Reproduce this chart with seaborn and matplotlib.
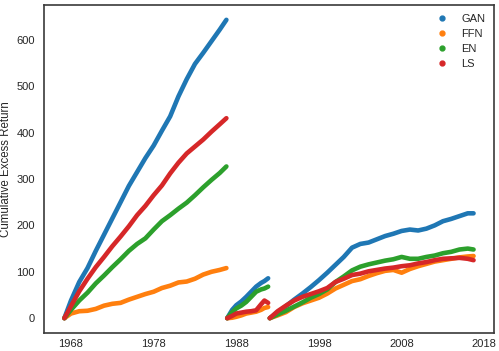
import pandas as pd
import numpy as np
import matplotlib
matplotlib.use("Agg")
import matplotlib.pyplot as plt
import seaborn as sns
from matplotlib.lines import Line2D

# --- data (cumulative excess return, 3 separate periods) ---
models = ['GAN', 'FFN', 'EN', 'LS']
tick_years = [1968, 1978, 1988, 1998, 2008, 2018]

# period 1
years_1 = [1967.2, 1968, 1969, 1970, 1971, 1972, 1973, 1974, 1975, 1976, 1977,
           1978, 1979, 1980, 1981, 1982, 1983, 1984, 1985, 1986, 1986.8]
gan_1 = [0, 38, 78, 108, 145, 180, 215, 250, 285, 315, 345,
         372, 404, 435, 478, 515, 548, 572, 597, 622, 643]
ffn_1 = [0, 10, 15, 16, 20, 27, 31, 33, 40, 46, 52,
         57, 65, 70, 77, 79, 85, 94, 100, 104, 108]
en_1 = [0, 18, 38, 55, 75, 92, 110, 127, 145, 160, 172,
        191, 209, 222, 236, 249, 265, 282, 298, 313, 327]
ls_1 = [0, 26, 58, 85, 110, 132, 155, 176, 198, 222, 242,
        265, 286, 312, 335, 355, 370, 385, 402, 418, 431]

# period 2
years_2 = [1986.9, 1987.5, 1988.0, 1988.6, 1989.2, 1989.8, 1990.4, 1991.0, 1991.4, 1991.85]
gan_2 = [0, 18, 28, 36, 46, 57, 68, 76, 80, 86]
ffn_2 = [0, 1, 3, 6, 10, 12, 14, 18, 22, 24]
en_2 = [0, 13, 21, 27, 35, 46, 57, 62, 64, 68]
ls_2 = [0, 5, 10, 12, 14, 15, 17, 30, 38, 33]

# period 3
years_3 = [1992.05, 1993, 1994, 1995, 1996, 1997, 1998, 1999, 2000, 2001, 2002, 2003, 2004,
           2005, 2006, 2007, 2008, 2009, 2010, 2011, 2012, 2013, 2014, 2015, 2016, 2016.7]
gan_3 = [0, 12, 26, 40, 53, 67, 82, 98, 115, 132, 152, 160, 163,
         170, 177, 182, 188, 191, 189, 193, 200, 209, 214, 220, 226, 226]
ffn_3 = [0, 6, 13, 24, 32, 38, 44, 53, 64, 72, 80, 84, 91,
         97, 102, 104, 98, 106, 112, 117, 122, 125, 128, 131, 133, 134]
en_3 = [0, 8, 16, 25, 34, 44, 52, 62, 78, 90, 103, 111, 116,
        120, 124, 127, 132, 128, 128, 132, 135, 140, 143, 148, 150, 148]
ls_3 = [0, 15, 27, 38, 46, 52, 58, 65, 78, 85, 93, 96, 101,
        104, 107, 109, 112, 114, 118, 121, 125, 128, 129, 130, 128, 125]

# --- long format table ---
periods = [
    (years_1, [gan_1, ffn_1, en_1, ls_1]),
    (years_2, [gan_2, ffn_2, en_2, ls_2]),
    (years_3, [gan_3, ffn_3, en_3, ls_3]),
]
frames = []
for p, (yrs, series) in enumerate(periods):
    for name, vals in zip(models, series):
        frames.append(pd.DataFrame({'year': yrs, 'ret': vals, 'model': name, 'period': p}))
df = pd.concat(frames, ignore_index=True)

# --- plot ---
sns.set_style("white")
plt.rcParams['font.family'] = ['Liberation Sans', 'DejaVu Sans']
plt.rcParams['axes.edgecolor'] = '#3a3a3a'

colors = sns.color_palette('tab10', 4)
fig = plt.figure(figsize=(4.99, 3.51), dpi=100)
ax = fig.add_axes([0.088, 0.051, 0.902, 0.935])

sns.lineplot(data=df, x='year', y='ret', hue='model', hue_order=models, units='period',
             estimator=None, palette=colors, linewidth=3.3, legend=False, ax=ax,
             solid_capstyle='round', solid_joinstyle='round', sort=False)

ax.set_xticks(tick_years)
ax.set_xlabel('')
ax.set_ylabel('Cumulative Excess Return', fontsize=8.3, labelpad=3)
ax.tick_params(axis='x', labelsize=8, pad=1)
ax.tick_params(axis='y', labelsize=8, pad=3)
for s in ax.spines.values():
    s.set_linewidth(1.2)

handles = [Line2D([], [], marker='o', linestyle='', color=c, markersize=3.5) for c in colors]
ax.legend(handles, models, loc='upper right', frameon=False, fontsize=8,
          handletextpad=0.7, labelspacing=0.45, borderaxespad=0.4)

fig.savefig('out.png', dpi=100)
